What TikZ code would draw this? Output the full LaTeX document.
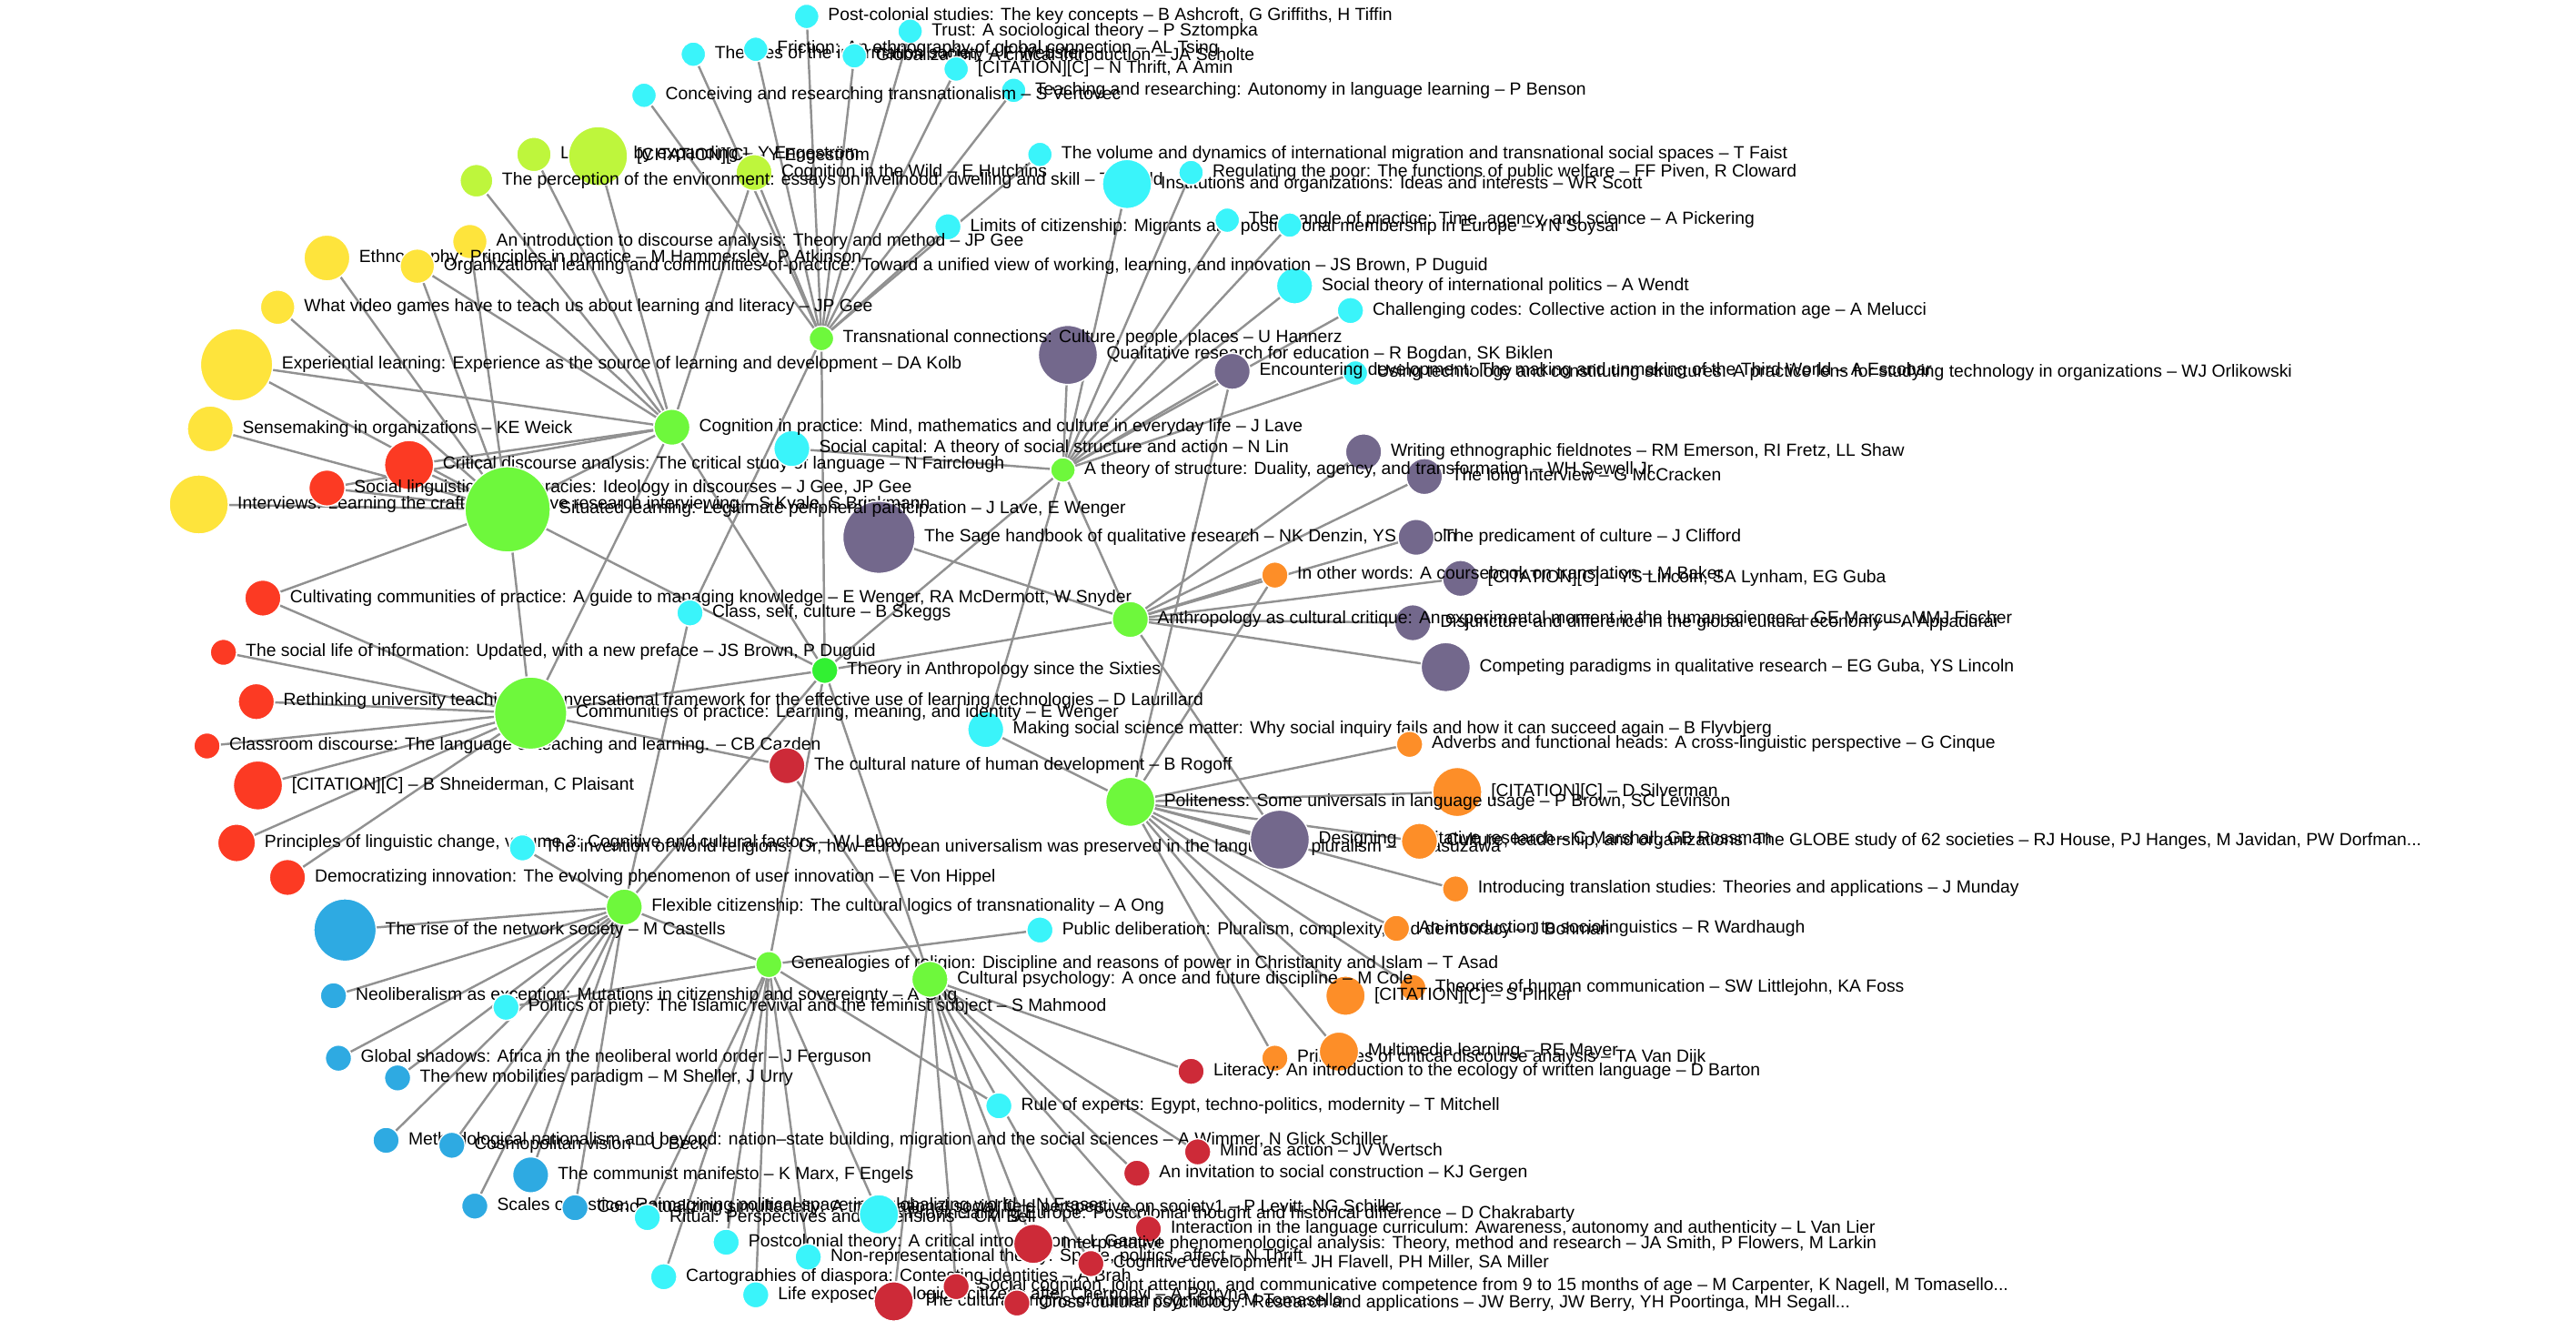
\documentclass[tikz,border=0pt]{standalone}
\usepackage{fontspec}
\setmainfont{Liberation Sans}
\usetikzlibrary{backgrounds}
\definecolor{ccyan}{RGB}{58,244,250}
\definecolor{clime}{RGB}{190,246,60}
\definecolor{cyell}{RGB}{254,228,60}
\definecolor{cgreen}{RGB}{110,248,60}
\definecolor{cbgreen}{RGB}{50,240,50}
\definecolor{cred}{RGB}{252,58,35}
\definecolor{cdred}{RGB}{205,42,56}
\definecolor{cpurp}{RGB}{115,104,140}
\definecolor{corange}{RGB}{253,142,40}
\definecolor{cblue}{RGB}{46,170,226}
\definecolor{linkgray}{RGB}{145,145,145}
\newcommand\nd[6]{\node[bub,fill=#5,minimum size=#4*2pt,label={[lbl]east:{#6}}] (#1) at (#2,#3) {};}
\begin{document}
\begin{tikzpicture}[x=1pt,y=-1pt,label distance=5pt,
  bub/.style={circle,draw=white,line width=0.8pt,inner sep=0pt},
  lbl/.style={font=\fontsize{10.7}{12}\selectfont,text=black,inner sep=0pt,anchor=mid west},
  lnk/.style={draw=linkgray,line width=1.35pt}]
\useasboundingbox (0,0) rectangle (1568,816);
% top cyan
\nd{pc}{491}{10}{7.5}{ccyan}{Post-colonial studies: The key concepts – B Ashcroft, G Griffiths, H Tiffin}
\nd{trust}{554}{19}{7.5}{ccyan}{Trust: A sociological theory – P Sztompka}
\nd{theo}{422}{33}{7.5}{ccyan}{Theories of the information society – F Webster}
\nd{fric}{460}{30}{7.5}{ccyan}{Friction: An ethnography of global connection – AL Tsing}
\nd{glob}{520}{34}{7.5}{ccyan}{Globalization: A critical introduction – JA Scholte}
\nd{thrift}{582}{42}{7.5}{ccyan}{[CITATION][C] – N Thrift, A Amin}
\nd{benson}{617}{55}{7.5}{ccyan}{Teaching and researching: Autonomy in language learning – P Benson}
\nd{conc}{392}{58}{7.5}{ccyan}{Conceiving and researching transnationalism – S Vertovec}
% lime
\nd{lbe}{325}{94}{10.5}{clime}{Learning by expanding – Y Engeström}
\nd{citl}{364}{95}{18}{clime}{[CITATION][C] – Y Engeström}
\nd{wild}{459}{105}{11}{clime}{Cognition in the Wild – E Hutchins}
\nd{perc}{290}{110}{10}{clime}{The perception of the environment: essays on livelihood, dwelling and skill – T Ingold}
% cyan upper right
\nd{faist}{633}{94}{7.5}{ccyan}{The volume and dynamics of international migration and transnational social spaces – T Faist}
\nd{scott}{686}{112}{15}{ccyan}{Institutions and organizations: Ideas and interests – WR Scott}
\nd{piven}{725}{105}{7.5}{ccyan}{Regulating the poor: The functions of public welfare – FF Piven, R Cloward}
\nd{limits}{577}{138}{8}{ccyan}{Limits of citizenship: Migrants and postnational membership in Europe – YN Soysal}
\nd{mangle}{747}{134}{7.5}{ccyan}{The mangle of practice: Time, agency, and science – A Pickering}
\nd{cx}{785}{137}{7.5}{ccyan}{}
\nd{wendt}{788}{174}{11}{ccyan}{Social theory of international politics – A Wendt}
\nd{melucci}{822}{189}{8}{ccyan}{Challenging codes: Collective action in the information age – A Melucci}
% yellow
\nd{intro}{286}{147}{10.5}{cyell}{An introduction to discourse analysis: Theory and method – JP Gee}
\nd{ethno}{199}{157}{14}{cyell}{Ethnography: Principles in practice – M Hammersley, P Atkinson}
\nd{org}{254}{162}{10.5}{cyell}{Organizational learning and communities-of-practice: Toward a unified view of working, learning, and innovation – JS Brown, P Duguid}
\nd{vg}{169}{187}{10.5}{cyell}{What video games have to teach us about learning and literacy – JP Gee}
\nd{exp}{144}{222}{22}{cyell}{Experiential learning: Experience as the source of learning and development – DA Kolb}
\nd{sense}{128}{261}{14}{cyell}{Sensemaking in organizations – KE Weick}
\nd{interv}{121}{307}{18}{cyell}{Interviews: Learning the craft of qualitative research interviewing – S Kvale, S Brinkmann}
% red
\nd{cda}{249}{283}{15}{cred}{Critical discourse analysis: The critical study of language – N Fairclough}
\nd{sling}{199}{297}{11}{cred}{Social linguistics and literacies: Ideology in discourses – J Gee, JP Gee}
\nd{cult}{160}{364}{11}{cred}{Cultivating communities of practice: A guide to managing knowledge – E Wenger, RA McDermott, W Snyder}
\nd{slife}{136}{397}{8}{cred}{The social life of information: Updated, with a new preface – JS Brown, P Duguid}
\nd{rethink}{156}{427}{11}{cred}{Rethinking university teaching: A conversational framework for the effective use of learning technologies – D Laurillard}
\nd{class}{126}{454}{8}{cred}{Classroom discourse: The language of teaching and learning. – CB Cazden}
\nd{shneid}{157}{478}{15}{cred}{[CITATION][C] – B Shneiderman, C Plaisant}
\nd{labov}{144}{513}{11.5}{cred}{Principles of linguistic change, volume 3: Cognitive and cultural factors – W Labov}
\nd{demo}{175}{534}{11}{cred}{Democratizing innovation: The evolving phenomenon of user innovation – E Von Hippel}
% blue
\nd{cast}{210}{566}{19}{cblue}{The rise of the network society – M Castells}
\nd{neolib}{203}{606}{8}{cblue}{Neoliberalism as exception: Mutations in citizenship and sovereignty – A Ong}
\nd{gshadow}{206}{644}{8}{cblue}{Global shadows: Africa in the neoliberal world order – J Ferguson}
\nd{newmob}{242}{656}{8}{cblue}{The new mobilities paradigm – M Sheller, J Urry}
\nd{meth}{235}{694}{8}{cblue}{Methodological nationalism and beyond: nation–state building, migration and the social sciences – A Wimmer, N Glick Schiller}
\nd{cosmo}{275}{697}{8}{cblue}{Cosmopolitan vision – U Beck}
\nd{commun}{323}{715}{11}{cblue}{The communist manifesto – K Marx, F Engels}
\nd{scales}{289}{734}{8}{cblue}{Scales of justice: Reimagining political space in a globalizing world – N Fraser}
\nd{concept}{350}{735}{8}{cblue}{Conceptualizing simultaneity: A transnational social field perspective on society1 – P Levitt, NG Schiller}
% cyan lower
\nd{ritual}{394}{741}{8}{ccyan}{Ritual: Perspectives and dimensions – CM Bell}
\nd{provinc}{535}{739}{12}{ccyan}{Provincializing Europe: Postcolonial thought and historical difference – D Chakrabarty}
\nd{pctheory}{442}{756}{8}{ccyan}{Postcolonial theory: A critical introduction – L Gandhi}
\nd{nonrep}{492}{765}{8}{ccyan}{Non-representational theory: Space, politics, affect – N Thrift}
\nd{carto}{404}{777}{8}{ccyan}{Cartographies of diaspora: Contesting identities – A Brah}
\nd{life}{460}{788}{8}{ccyan}{Life exposed: biological citizens after Chernobyl – A Petryna}
\nd{rule}{608}{673}{8}{ccyan}{Rule of experts: Egypt, techno-politics, modernity – T Mitchell}
\nd{pubdel}{633}{566}{8}{ccyan}{Public deliberation: Pluralism, complexity, and democracy – J Bohman}
\nd{piety}{308}{613}{8}{ccyan}{Politics of piety: The Islamic revival and the feminist subject – S Mahmood}
\nd{invent}{318}{516}{8}{ccyan}{The invention of world religions: Or, how European universalism was preserved in the language of pluralism – T Masuzawa}
\nd{classself}{420}{373}{8}{ccyan}{Class, self, culture – B Skeggs}
\nd{scap}{482}{273}{11}{ccyan}{Social capital: A theory of social structure and action – N Lin}
\nd{flyv}{600}{444}{11}{ccyan}{Making social science matter: Why social inquiry fails and how it can succeed again – B Flyvbjerg}
\nd{orlik}{825}{227}{7.5}{ccyan}{Using technology and constituting structures: A practice lens for studying technology in organizations – WJ Orlikowski}
% purple
\nd{bogdan}{650}{216}{18}{cpurp}{Qualitative research for education – R Bogdan, SK Biklen}
\nd{escobar}{750}{226}{11}{cpurp}{Encountering development: The making and unmaking of the Third World – A Escobar}
\nd{writing}{830}{275}{11}{cpurp}{Writing ethnographic fieldnotes – RM Emerson, RI Fretz, LL Shaw}
\nd{longint}{867}{290}{11}{cpurp}{The long interview – G McCracken}
\nd{sage}{535}{327}{22}{cpurp}{The Sage handbook of qualitative research – NK Denzin, YS Lincoln}
\nd{pred}{862}{327}{11}{cpurp}{The predicament of culture – J Clifford}
\nd{citlinc}{889}{352}{11}{cpurp}{[CITATION][C] – YS Lincoln, SA Lynham, EG Guba}
\nd{disj}{860}{379}{11}{cpurp}{Disjuncture and difference in the global cultural economy – A Appadurai}
\nd{compet}{880}{406}{15}{cpurp}{Competing paradigms in qualitative research – EG Guba, YS Lincoln}
\nd{design}{779}{511}{18}{cpurp}{Designing qualitative research – C Marshall, GB Rossman}
% orange
\nd{otherw}{776}{350}{8}{corange}{In other words: A coursebook on translation – M Baker}
\nd{adverbs}{858}{453}{8}{corange}{Adverbs and functional heads: A cross-linguistic perspective – G Cinque}
\nd{silver}{887}{482}{15}{corange}{[CITATION][C] – D Silverman}
\nd{globe}{864}{512}{11}{corange}{Culture, leadership, and organizations: The GLOBE study of 62 societies – RJ House, PJ Hanges, M Javidan, PW Dorfman...}
\nd{munday}{886}{541}{8}{corange}{Introducing translation studies: Theories and applications – J Munday}
\nd{ward}{850}{565}{8}{corange}{An introduction to sociolinguistics – R Wardhaugh}
\nd{little}{860}{601}{8}{corange}{Theories of human communication – SW Littlejohn, KA Foss}
\nd{pinker}{819}{606}{12}{corange}{[CITATION][C] – S Pinker}
\nd{vandijk}{776}{644}{8}{corange}{Principles of critical discourse analysis – TA Van Dijk}
\nd{mayer}{815}{640}{12}{corange}{Multimedia learning – RE Mayer}
% dark red
\nd{rogoff}{479}{466}{11}{cdred}{The cultural nature of human development – B Rogoff}
\nd{barton}{725}{652}{8}{cdred}{Literacy: An introduction to the ecology of written language – D Barton}
\nd{wertsch}{729}{701}{8}{cdred}{Mind as action – JV Wertsch}
\nd{gergen}{692}{714}{8}{cdred}{An invitation to social construction – KJ Gergen}
\nd{vanlier}{699}{748}{8}{cdred}{Interaction in the language curriculum: Awareness, autonomy and authenticity – L Van Lier}
\nd{ipa}{629}{757}{12}{cdred}{Interpretative phenomenological analysis: Theory, method and research – JA Smith, P Flowers, M Larkin}
\nd{cogdev}{664}{769}{8}{cdred}{Cognitive development – JH Flavell, PH Miller, SA Miller}
\nd{corigins}{544}{792}{12}{cdred}{The cultural origins of human cognition – M Tomasello}
\nd{socog}{582}{783}{8}{cdred}{Social cognition, joint attention, and communicative competence from 9 to 15 months of age – M Carpenter, K Nagell, M Tomasello...}
\nd{berry}{619}{793}{8}{cdred}{Cross-cultural psychology: Research and applications – JW Berry, JW Berry, YH Poortinga, MH Segall...}
% green hubs
\nd{tc}{500}{206}{7.5}{cgreen}{Transnational connections: Culture, people, places – U Hannerz}
\nd{cp}{409}{260}{11}{cgreen}{Cognition in practice: Mind, mathematics and culture in everyday life – J Lave}
\nd{sl}{309}{310}{26}{cgreen}{Situated learning: Legitimate peripheral participation – J Lave, E Wenger}
\nd{ts}{647}{286}{7.5}{cgreen}{A theory of structure: Duality, agency, and transformation – WH Sewell Jr}
\nd{ac}{688}{377}{11}{cgreen}{Anthropology as cultural critique: An experimental moment in the human sciences – GE Marcus, MMJ Fischer}
\nd{tia}{502}{408}{8}{cbgreen}{Theory in Anthropology since the Sixties}
\nd{cop}{323}{434}{22}{cgreen}{Communities of practice: Learning, meaning, and identity – E Wenger}
\nd{pol}{688}{488}{15}{cgreen}{Politeness: Some universals in language usage – P Brown, SC Levinson}
\nd{fc}{380}{552}{11}{cgreen}{Flexible citizenship: The cultural logics of transnationality – A Ong}
\nd{gen}{468}{587}{8}{cgreen}{Genealogies of religion: Discipline and reasons of power in Christianity and Islam – T Asad}
\nd{cpsy}{566}{596}{11}{cgreen}{Cultural psychology: A once and future discipline – M Cole}
\begin{scope}[on background layer]
\foreach \a/\b in {tc/pc,tc/trust,tc/theo,tc/fric,tc/glob,tc/thrift,tc/benson,tc/conc,tc/faist,tc/limits,tc/wild,tc/classself,tc/tia,
 cp/lbe,cp/citl,cp/perc,cp/wild,cp/org,cp/intro,cp/cda,cp/sling,cp/sl,cp/cop,cp/tia,cp/exp,
 sl/ethno,sl/org,sl/vg,sl/intro,sl/exp,sl/sense,sl/interv,sl/cda,sl/sling,sl/cult,sl/cop,sl/tia,
 cop/cult,cop/slife,cop/rethink,cop/class,cop/shneid,cop/labov,cop/demo,cop/rogoff,cop/tia,
 ts/scott,ts/piven,ts/mangle,ts/cx,ts/wendt,ts/melucci,ts/scap,ts/flyv,ts/bogdan,ts/escobar,ts/orlik,ts/ac,ts/tia,
 ac/otherw,ac/pred,ac/longint,ac/writing,ac/citlinc,ac/disj,ac/compet,ac/design,ac/tia,ac/sage,
 pol/adverbs,pol/silver,pol/design,pol/globe,pol/munday,pol/ward,pol/little,pol/pinker,pol/vandijk,pol/mayer,pol/flyv,pol/otherw,pol/escobar,
 fc/cast,fc/neolib,fc/gshadow,fc/newmob,fc/meth,fc/cosmo,fc/commun,fc/scales,fc/concept,fc/invent,fc/classself,fc/tia,fc/gen,
 gen/pctheory,gen/nonrep,gen/carto,gen/life,gen/ritual,gen/provinc,gen/rule,gen/pubdel,gen/piety,gen/tia,
 cpsy/rogoff,cpsy/barton,cpsy/wertsch,cpsy/gergen,cpsy/vanlier,cpsy/ipa,cpsy/cogdev,cpsy/corigins,cpsy/socog,cpsy/berry,cpsy/tia}
  \draw[lnk] (\a) -- (\b);
\end{scope}
\end{tikzpicture}
\end{document}
